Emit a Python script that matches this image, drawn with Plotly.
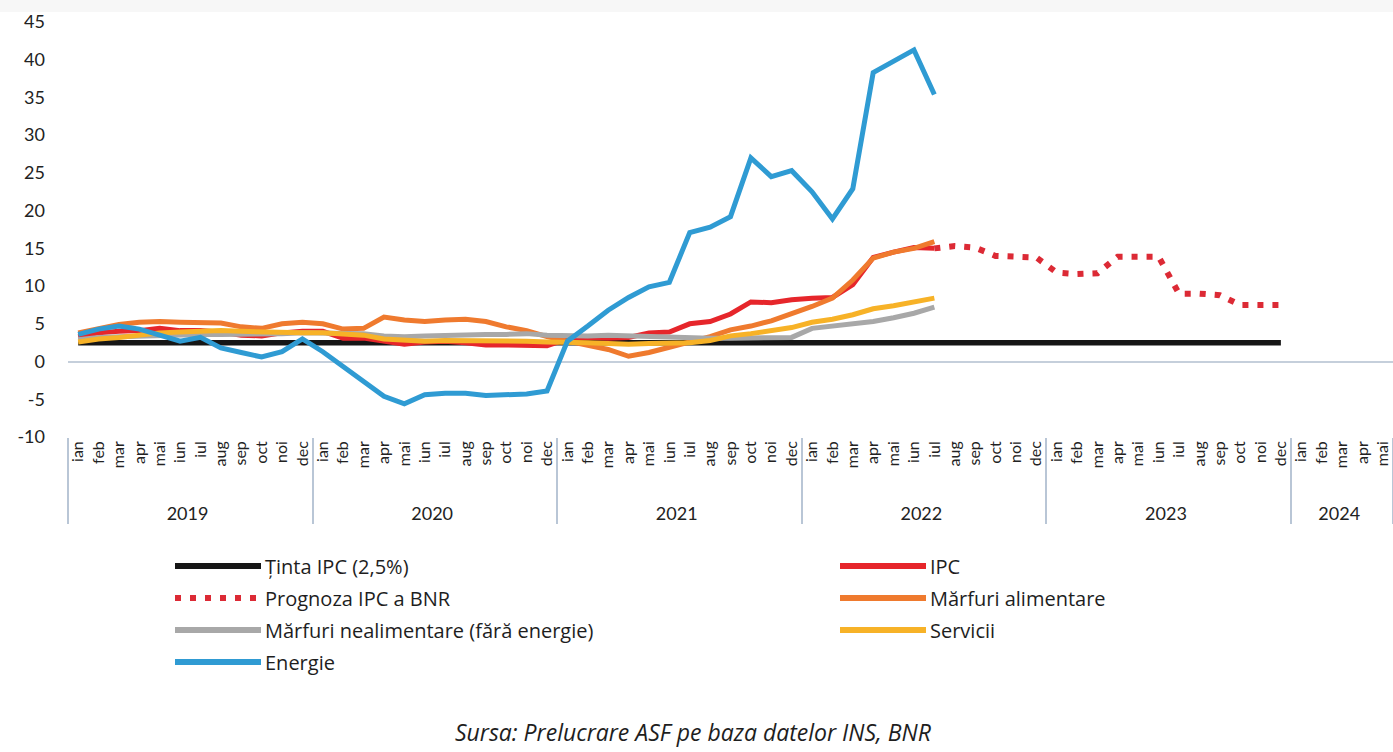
import plotly.graph_objects as go

# luni / ani (axa multicategorie)
month_names = ["ian", "feb", "mar", "apr", "mai", "iun", "iul", "aug", "sep", "oct", "noi", "dec"]
year_names = ["2019", "2020", "2021", "2022", "2023"]
months = month_names * 5 + month_names[:5]
years = [y for y in year_names for _ in range(12)] + ["2024"] * 5

y_ticks = [-10, -5, 0, 5, 10, 15, 20, 25, 30, 35, 40, 45]

tinta_ipc = [2.5] * 60

ipc = [3.3, 3.8, 4.0, 4.1, 4.4, 4.1, 4.1, 3.9, 3.5, 3.4, 3.8, 4.0,
       4.0, 3.1, 3.1, 2.7, 2.3, 2.6, 2.7, 2.5, 2.2, 2.2, 2.1, 2.1,
       3.0, 3.2, 3.1, 3.2, 3.8, 3.9, 5.0, 5.3, 6.3, 7.9, 7.8, 8.2,
       8.4, 8.5, 10.2, 13.8, 14.5, 15.1, 15.0]

# prognoza BNR: iul 2022 - dec 2023
prognoza_start = 42
prognoza = [15.0, 15.3, 15.1, 14.0, 13.9, 13.8,
            11.8, 11.6, 11.7, 13.9, 13.9, 13.9, 9.0, 9.0, 8.8, 7.5, 7.5, 7.5]

alimentare = [3.8, 4.4, 4.9, 5.2, 5.3, 5.2, 5.2, 5.1, 4.6, 4.4, 5.0, 5.2,
              5.0, 4.3, 4.4, 5.9, 5.5, 5.3, 5.5, 5.6, 5.3, 4.6, 4.1, 3.3,
              2.7, 2.2, 1.6, 0.7, 1.2, 1.9, 2.6, 3.3, 4.2, 4.7, 5.4, 6.3,
              7.3, 8.4, 10.8, 13.7, 14.5, 15.0, 15.9]

nealimentare = [2.9, 3.2, 3.3, 3.4, 3.5, 3.5, 3.6, 3.6, 3.6, 3.6, 3.7, 3.8,
                3.8, 3.8, 3.7, 3.4, 3.3, 3.4, 3.5, 3.6, 3.6, 3.6, 3.7, 3.5,
                3.4, 3.4, 3.5, 3.4, 3.3, 3.3, 3.2, 3.1, 3.1, 3.1, 3.1, 3.2,
                4.4, 4.7, 4.9, 5.3, 5.8, 6.4, 7.2]

servicii = [2.6, 3.0, 3.2, 3.5, 3.8, 3.9, 4.0, 4.1, 4.0, 3.9, 3.9, 3.8,
            3.8, 3.7, 3.5, 3.0, 2.8, 2.7, 2.8, 2.8, 2.8, 2.8, 2.7, 2.6,
            2.6, 2.5, 2.4, 2.3, 2.4, 2.4, 2.5, 2.8, 3.4, 3.7, 4.1, 4.5,
            5.2, 5.6, 6.2, 7.0, 7.4, 7.9, 8.4]

energie = [3.6, 4.3, 4.7, 4.3, 3.5, 2.7, 3.2, 1.8, 1.2, 0.6, 1.3, 3.0,
           1.3, -0.7, -2.8, -4.6, -5.6, -4.4, -4.2, -4.2, -4.5, -4.4, -4.3, -3.9,
           2.7, 4.7, 6.8, 8.5, 9.9, 10.5, 17.1, 17.8, 19.2, 27.0, 24.5, 25.3,
           22.5, 18.9, 22.9, 38.3, 39.8, 41.3, 35.4]

n = len(months)


def pad(values, start=0):
    return [None] * start + list(values) + [None] * (n - start - len(values))


series = [
    ("Ținta IPC (2,5%)", pad(tinta_ipc), "#161616", 5.5, "solid"),
    ("IPC", pad(ipc), "#e6262b", 5, "solid"),
    ("Prognoza IPC a BNR", pad(prognoza, prognoza_start), "#dc2a35", 6, "6px,9px"),
    ("Mărfuri alimentare", pad(alimentare), "#ef7a2e", 5, "solid"),
    ("Mărfuri nealimentare (fără energie)", pad(nealimentare), "#a8a8a8", 5, "solid"),
    ("Servicii", pad(servicii), "#f7b227", 5, "solid"),
    ("Energie", pad(energie), "#2f9bd3", 5, "solid"),
]

# etichete: luni cu spatii nedespartibile (coboara randul cu anii), ani mai mari
month_labels = ["\u00a0" * 5 + m for m in months]
year_labels = ["<span style='font-size:18px'>%s</span>" % y for y in years]

fig = go.Figure()
for name, y, color, width, dash in series:
    fig.add_trace(go.Scatter(
        x=[year_labels, month_labels], y=y, name=name, mode="lines",
        line=dict(color=color, width=width, dash=dash),
        connectgaps=False, showlegend=False, hoverinfo="skip",
    ))

# geometrie (px)
W, H = 1393, 752
ML, MR, MT, MB = 68, 0, 22, 315
pw, ph = W - ML - MR, H - MT - MB


def px_x(x):
    return (x - ML) / pw


def px_y(y):
    return (H - MB - y) / ph


# legenda desenata manual (linii lungi ca in original)
legend_cols = [175, 840]
legend_rows = [566, 598, 630, 662]
legend_pos = [(0, 0), (1, 0), (0, 1), (1, 1), (0, 2), (1, 2), (0, 3)]
shapes = [dict(type="rect", xref="paper", yref="paper",
               x0=px_x(0), x1=px_x(W), y0=px_y(12), y1=px_y(0),
               fillcolor="#f7f7f7", line_width=0, layer="below")]
annotations = []
for (col, row), (name, _, color, width, dash) in zip(legend_pos, series):
    x0 = legend_cols[col]
    y0 = legend_rows[row]
    shapes.append(dict(type="line", xref="paper", yref="paper",
                       x0=px_x(x0), x1=px_x(x0 + 86), y0=px_y(y0), y1=px_y(y0),
                       line=dict(color=color, width=6, dash=dash)))
    annotations.append(dict(text=name, xref="paper", yref="paper",
                            x=px_x(x0 + 88), y=px_y(y0), xanchor="left", yanchor="middle",
                            showarrow=False,
                            font=dict(family="Open Sans", size=20, color="#1e1e1e")))

annotations.append(dict(text="<i>Sursa: Prelucrare ASF pe baza datelor INS, BNR</i>",
                        xref="paper", yref="paper", x=px_x(693), y=px_y(750),
                        xanchor="center", yanchor="bottom", showarrow=False,
                        font=dict(family="Open Sans", size=23, color="#1e1e1e")))

fig.update_layout(
    width=W, height=H,
    margin=dict(l=ML, r=MR, t=MT, b=MB, pad=0),
    paper_bgcolor="white", plot_bgcolor="white",
    font=dict(family="Lato, Open Sans, sans-serif", color="#222222"),
    shapes=shapes, annotations=annotations,
    showlegend=False, hovermode=False,
)
fig.update_yaxes(range=[-10, 45], tickmode="array", tickvals=y_ticks,
                 ticktext=[str(v) for v in y_ticks], showgrid=False,
                 zeroline=True, zerolinecolor="#c5cfdb", zerolinewidth=2,
                 showline=False, ticks="", ticklabelstandoff=22,
                 tickfont=dict(size=18, color="#222222"))
fig.update_xaxes(type="multicategory", range=[-0.5, n - 0.5],
                 showgrid=False, showline=False,
                 tickangle=-90, tickfont=dict(size=16, color="#222222"),
                 showdividers=True, dividercolor="#b9c6d6", dividerwidth=1.5,
                 ticks="")

fig.write_html("out.html", config={"displayModeBar": False},
               post_script="document.body.style.margin='0';")
